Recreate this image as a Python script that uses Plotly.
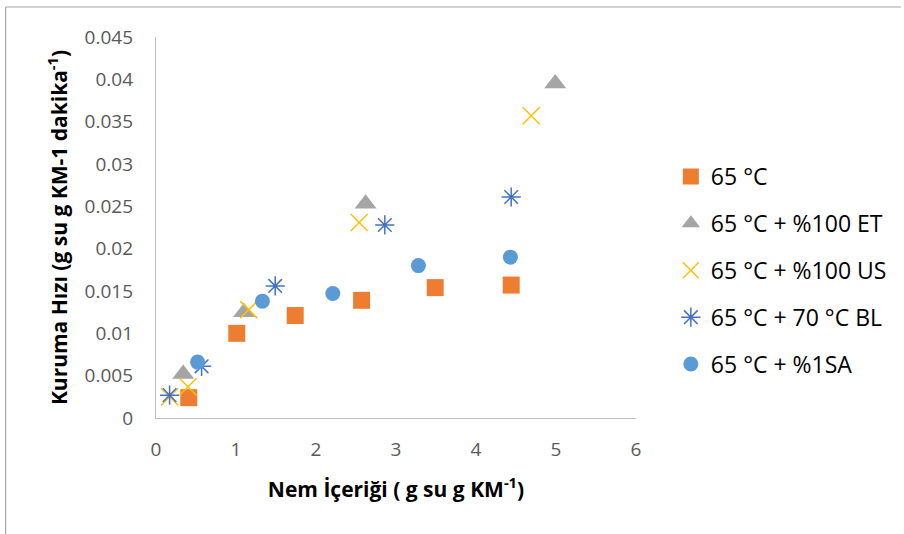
import plotly.graph_objects as go

# ---- data ----
series_names = ["65 °C", "65 °C + %100 ET", "65 °C + %100 US", "65 °C + 70 °C BL", "65 °C + %1SA"]

x_65 = [0.41, 1.01, 1.74, 2.57, 3.49, 4.44]
y_65 = [0.0024, 0.0100, 0.0121, 0.0139, 0.0154, 0.0157]

x_et = [0.34, 1.10, 2.62, 4.99]
y_et = [0.0052, 0.0125, 0.0253, 0.0395]

x_us = [0.17, 0.40, 1.16, 2.54, 4.69]
y_us = [0.0025, 0.0037, 0.0128, 0.0231, 0.0357]

x_bl = [0.17, 0.57, 1.49, 2.86, 4.44]
y_bl = [0.0027, 0.0061, 0.0156, 0.0228, 0.0261]

x_sa = [0.52, 1.33, 2.21, 3.28, 4.43]
y_sa = [0.0066, 0.0138, 0.0147, 0.0180, 0.0190]

x_tickvals = [0, 1, 2, 3, 4, 5, 6]
x_ticktext = ["0", "1", "2", "3", "4", "5", "6"]
y_tickvals = [0, 0.005, 0.01, 0.015, 0.02, 0.025, 0.03, 0.035, 0.04, 0.045]
y_ticktext = ["0", "0.005", "0.01", "0.015", "0.02", "0.025", "0.03", "0.035", "0.04", "0.045"]

FONT = "Open Sans"

fig = go.Figure()
fig.add_trace(go.Scatter(x=x_65, y=y_65, mode="markers", name=series_names[0], legendgroup="g1",
                         marker=dict(symbol="square", size=17, color="#ED7D31", line=dict(width=0))))
fig.add_trace(go.Scatter(x=x_et, y=y_et, mode="markers", name=series_names[1], legendgroup="g2",
                         marker=dict(symbol="triangle-up", size=19, color="#A5A5A5", line=dict(width=0))))
fig.add_trace(go.Scatter(x=x_us, y=y_us, mode="markers", name=series_names[2], legendgroup="g3",
                         marker=dict(symbol="x-thin-open", size=17, color="#FFC000", line=dict(width=1.5, color="#FFC000"))))
fig.add_trace(go.Scatter(x=x_bl, y=y_bl, mode="markers", name=series_names[3], legendgroup="g4",
                         marker=dict(symbol="asterisk-open", size=16, color="#4472C4", line=dict(width=1.5, color="#4472C4"))))
fig.add_trace(go.Scatter(x=x_sa, y=y_sa, mode="markers", name=series_names[4], legendgroup="g5",
                         marker=dict(symbol="circle", size=15, color="#5B9BD5", line=dict(width=0))))

L, R, T, B = 156, 266, 37, 116
W, H = 904, 534
pw, ph = W - L - R, H - T - B

def px_x(p):
    return (p - L) / pw

def px_y(p):
    return (H - B - p) / ph

fig.update_layout(
    width=W, height=H,
    margin=dict(l=L, r=R, t=T, b=B),
    paper_bgcolor="white", plot_bgcolor="white",
    font=dict(family=FONT, color="#595959"),
    showlegend=True,
    legend=dict(x=px_x(673), xanchor="left", y=px_y(155), yanchor="top",
                font=dict(family=FONT, size=23, color="#000000"),
                tracegroupgap=14, bgcolor="rgba(0,0,0,0)"),
    xaxis=dict(range=[0, 6], tickvals=x_tickvals, ticktext=x_ticktext,
               showgrid=False, zeroline=False, showline=True, linecolor="#BFBFBF", linewidth=1.3,
               ticks="", ticklabelstandoff=14,
               tickfont=dict(family=FONT, size=19, color="#595959"),
               title=dict(text="Nem İçeriği ( g su g KM<sup>-1</sup>)", standoff=21,
                          font=dict(family=FONT, size=21, color="#000000", weight="bold"))),
    yaxis=dict(range=[0, 0.045], tickvals=y_tickvals, ticktext=y_ticktext,
               showgrid=False, zeroline=False, showline=True, linecolor="#BFBFBF", linewidth=1.3,
               ticks="", ticklabelstandoff=18,
               tickfont=dict(family=FONT, size=19, color="#595959"),
               title=dict(text="Kuruma Hızı (g su g KM-1 dakika<sup>-1</sup>)", standoff=11,
                          font=dict(family=FONT, size=21, color="#000000", weight="bold"))),
    shapes=[
        dict(type="line", xref="paper", yref="paper", x0=px_x(5), x1=px_x(5), y0=px_y(7), y1=px_y(534),
             line=dict(color="#A6A6A6", width=1.2)),
        dict(type="line", xref="paper", yref="paper", x0=px_x(5), x1=px_x(904), y0=px_y(7), y1=px_y(7),
             line=dict(color="#A6A6A6", width=1.2)),
    ],
)

fig.write_html("out.html", config={"displayModeBar": False},
               post_script="document.body.style.margin='0px';")
